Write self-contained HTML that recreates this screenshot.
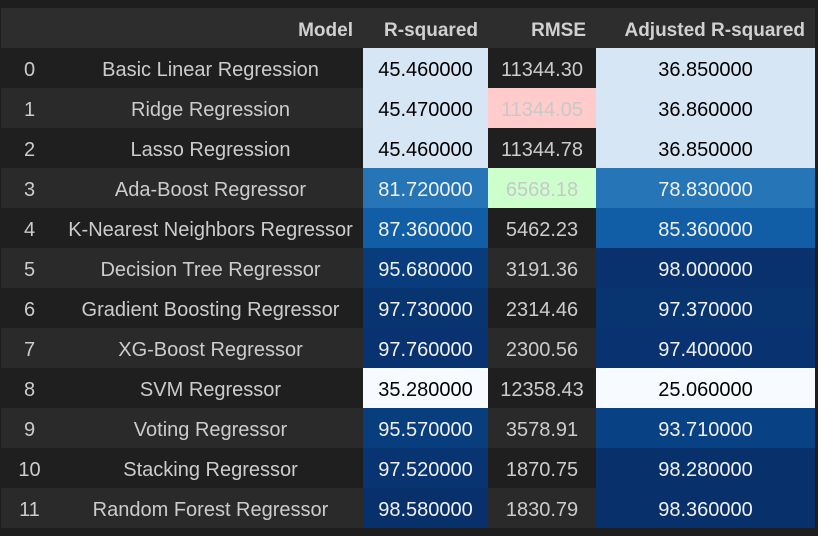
<!DOCTYPE html>
<html><head><meta charset="utf-8"><style>
body{margin:0;background:#1e1e1e;width:818px;height:536px;overflow:hidden;font-family:"Liberation Sans",sans-serif;}
table{position:absolute;left:1px;top:8px;border-collapse:collapse;table-layout:fixed;width:814px;font-size:20px;color:#cccccc;}
td,th{height:40px;padding:5px 0 0 0;white-space:nowrap;box-sizing:border-box;overflow:hidden;}
th{background:#2d2d2d;color:#d0d0d0;font-weight:bold;text-align:right;padding-right:10px;font-size:19px;}
tr.r0 td.b{background:#1f1f1f}
tr.r1 td.b{background:#2a2a2a}
td.idx{text-align:center}
td.model{text-align:center}
td.num{text-align:center}
</style></head><body>
<table>
<colgroup><col style="width:57px"><col style="width:305px"><col style="width:125px"><col style="width:108px"><col style="width:219px"></colgroup>
<thead><tr>
<th></th>
<th>Model</th>
<th>R-squared</th>
<th>RMSE</th>
<th>Adjusted R-squared</th>
</tr></thead>
<tbody id="tb"></tbody></table>
<script>
const models=["Basic Linear Regression","Ridge Regression","Lasso Regression","Ada-Boost Regressor","K-Nearest Neighbors Regressor","Decision Tree Regressor","Gradient Boosting Regressor","XG-Boost Regressor","SVM Regressor","Voting Regressor","Stacking Regressor","Random Forest Regressor"];
const rsq=[45.46,45.47,45.46,81.72,87.36,95.68,97.73,97.76,35.28,95.57,97.52,98.58];
const rmse=[11344.30,11344.05,11344.78,6568.18,5462.23,3191.36,2314.46,2300.56,12358.43,3578.91,1870.75,1830.79];
const adj=[36.85,36.86,36.85,78.83,85.36,98.00,97.37,97.40,25.06,93.71,98.28,98.36];
const stops=["#f7fbff","#deebf7","#c6dbef","#9ecae1","#6baed6","#4292c6","#2171b5","#08519c","#08306b"].map(h=>[1,3,5].map(i=>parseInt(h.substr(i,2),16)));
function blues(t){t=Math.max(0,Math.min(1,t))*(stops.length-1);const i=Math.min(Math.floor(t),stops.length-2),f=t-i;return stops[i].map((v,k)=>Math.round(v+(stops[i+1][k]-v)*f));}
function lum(c){const l=c.map(v=>{v/=255;return v<=0.03928?v/12.92:Math.pow((v+0.055)/1.055,2.4)});return 0.2126*l[0]+0.7152*l[1]+0.0722*l[2];}
function styleCell(td,vals,v){const mn=Math.min(...vals),mx=Math.max(...vals);const c=blues((v-mn)/(mx-mn));td.style.background=`rgb(${c})`;td.style.color=lum(c)<0.408?'#f1f1f1':'#000';}
const tb=document.getElementById('tb');
models.forEach((m,i)=>{
 const tr=document.createElement('tr');tr.className=i%2?'r1':'r0';
 
 
 const a=document.createElement('td');a.className='idx b';a.textContent=i;
 
 
 const b=document.createElement('td');b.className='model b';b.textContent=m;
 
 
 const c=document.createElement('td');c.className='num';c.textContent=rsq[i].toFixed(6);styleCell(c,rsq,rsq[i]);
 
 
 const d=document.createElement('td');d.className='num b';d.textContent=rmse[i].toFixed(2);
 if(i===1){d.style.background='#ffcccb';d.style.color='#c8c8c8';}
 if(i===3){d.style.background='#ccffcc';d.style.color='#c8c8c8';}
 if(i===2){d.style.background='#1f1f1f';}
 
 
 const e=document.createElement('td');e.className='num';e.textContent=adj[i].toFixed(6);styleCell(e,adj,adj[i]);
 
 
 [a,b,c,d,e].forEach(x=>tr.appendChild(x));tb.appendChild(tr);
});
</script>
</body></html>
